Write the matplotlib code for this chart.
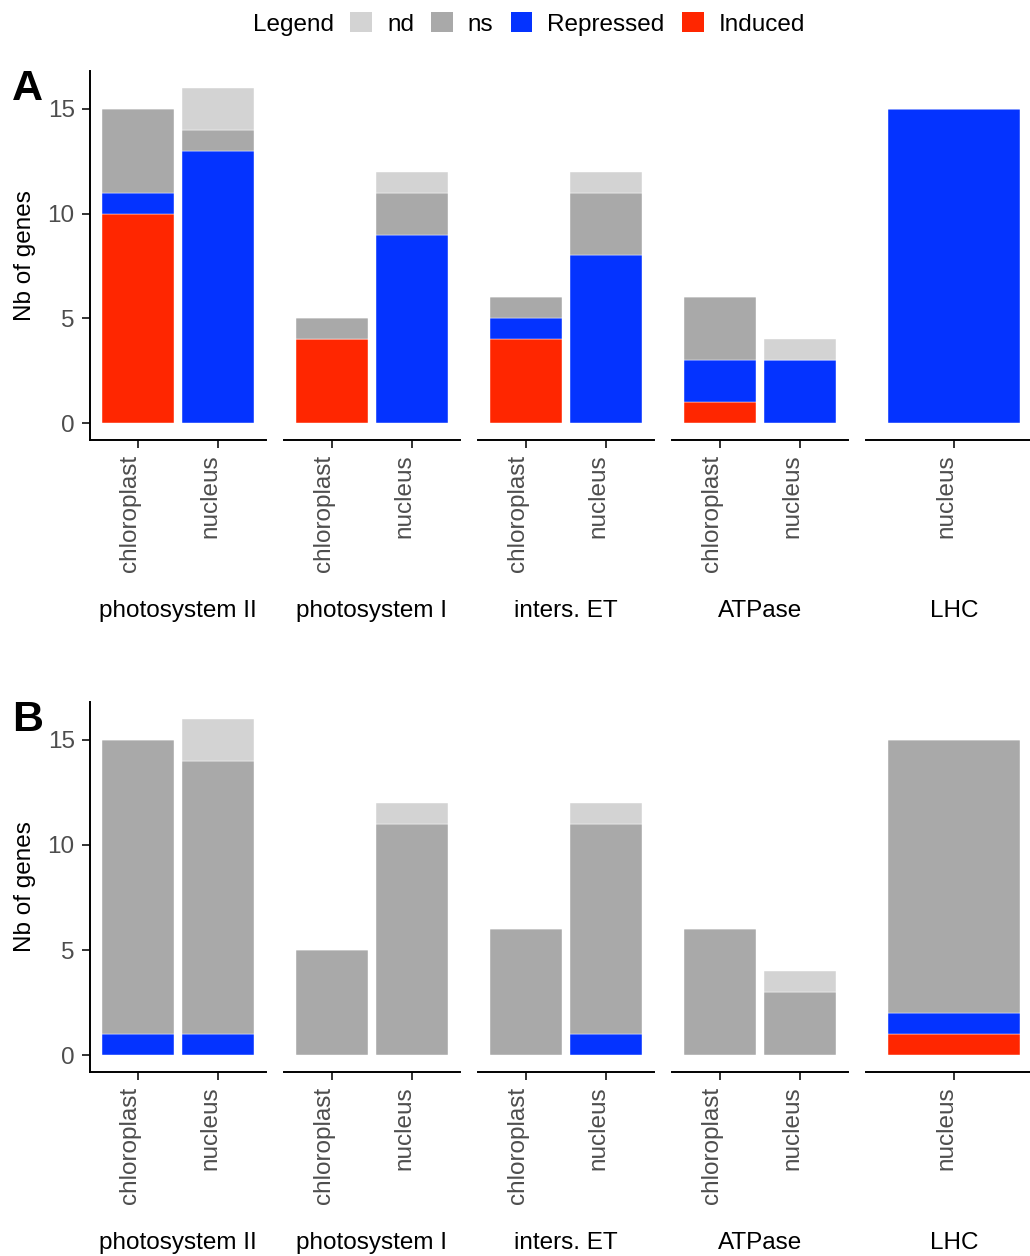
import matplotlib
matplotlib.use("Agg")
import matplotlib.pyplot as plt
from matplotlib.patches import Patch
from matplotlib.transforms import ScaledTranslation

plt.rcParams['font.family'] = ['Liberation Sans', 'DejaVu Sans']

# data
facets = ["photosystem II", "photosystem I", "inters. ET", "ATPase", "LHC"]
compartments = [["chloroplast", "nucleus"]] * 4 + [["nucleus"]]
bar_facet = [0, 0, 1, 1, 2, 2, 3, 3, 4]
bar_comp = ["chloroplast", "nucleus", "chloroplast", "nucleus", "chloroplast",
            "nucleus", "chloroplast", "nucleus", "nucleus"]

A_induced = [10, 0, 4, 0, 4, 0, 1, 0, 0]
A_repressed = [1, 13, 0, 9, 1, 8, 2, 3, 15]
A_ns = [4, 1, 1, 2, 1, 3, 3, 0, 0]
A_nd = [0, 2, 0, 1, 0, 1, 0, 1, 0]

B_induced = [0, 0, 0, 0, 0, 0, 0, 0, 1]
B_repressed = [1, 1, 0, 0, 0, 1, 0, 0, 1]
B_ns = [14, 13, 5, 11, 6, 10, 6, 3, 13]
B_nd = [0, 2, 0, 1, 0, 1, 0, 1, 0]

levels = ["Induced", "Repressed", "ns", "nd"]
colors = {"Induced": "#FF2600", "Repressed": "#0433FF", "ns": "#A9A9A9", "nd": "#D3D3D3"}
yticks = [0, 5, 10, 15]

W, H = 1030, 1256
fig = plt.figure(figsize=(W / 100, H / 100), dpi=100)
FS = 17.5
shift = ScaledTranslation(3 / 100, 0, fig.dpi_scale_trans)


def draw_panel(letter, top, bottom, series):
    for f, name in enumerate(facets):
        left = 90 + f * 194
        width = min(176, W - left)
        ax = fig.add_axes([left / W, 1 - bottom / H, width / W, (bottom - top) / H])
        idx = [i for i in range(len(bar_facet)) if bar_facet[i] == f]
        cats = [bar_comp[i] for i in idx]
        base = [0] * len(idx)
        for lev in levels:
            vals = [series[lev][i] for i in idx]
            ax.bar(cats, vals, bottom=base, width=0.9, color=colors[lev],
                   edgecolor="white", linewidth=0.3)
            base = [b + v for b, v in zip(base, vals)]
        n = len(compartments[f])
        full = n - 1 + 1.2
        ax.set_xlim(-0.6, -0.6 + full * width / 176)
        ax.set_ylim(-0.8, 16.8)
        for s in ["top", "right"]:
            ax.spines[s].set_visible(False)
        ax.spines["bottom"].set_linewidth(1.4)
        ax.spines["left"].set_linewidth(1.4)
        ax.tick_params(axis="x", length=5.5, width=1.4, color="#333333", pad=5,
                       labelsize=FS, labelcolor="#4D4D4D", labelrotation=90)
        for lab in ax.get_xticklabels():
            lab.set_va("top")
            lab.set_ha("right")
            lab.set_transform(lab.get_transform() + shift)
        if f == 0:
            ax.set_yticks(yticks)
            ax.tick_params(axis="y", length=5.5, width=1.4, color="#333333", pad=5.5,
                           labelsize=FS, labelcolor="#4D4D4D")
        else:
            ax.spines["left"].set_visible(False)
            ax.set_yticks([])
        ax.annotate(name, xy=(88 / width, 0), xycoords="axes fraction",
                    xytext=(0, -171), textcoords="offset pixels",
                    ha="center", va="center", fontsize=FS)
    fig.text(25 / W, 1 - (top + bottom) / 2 / H, "Nb of genes", rotation=90,
             ha="center", va="center", fontsize=FS)
    fig.text(12 / W, 1 - (top + 29) / H, letter, fontsize=31, fontweight="bold",
             ha="left", va="baseline")


draw_panel("A", 71, 440, {"Induced": A_induced, "Repressed": A_repressed, "ns": A_ns, "nd": A_nd})
draw_panel("B", 702, 1072, {"Induced": B_induced, "Repressed": B_repressed, "ns": B_ns, "nd": B_nd})

# legend
handles = [Patch(facecolor=colors[l], edgecolor="none") for l in ["nd", "ns", "Repressed", "Induced"]]
fig.text(253 / W, 1 - 25 / H, "Legend", fontsize=FS, ha="left", va="center")
fig.legend(handles, ["nd", "ns", "Repressed", "Induced"], ncol=4, frameon=False,
           loc="center left", bbox_to_anchor=(350 / W, 1 - 24 / H), fontsize=FS,
           handlelength=0.9, handleheight=0.9, handletextpad=0.62,
           columnspacing=0.7, borderpad=0, borderaxespad=0)

fig.savefig("out.png", dpi=100)
